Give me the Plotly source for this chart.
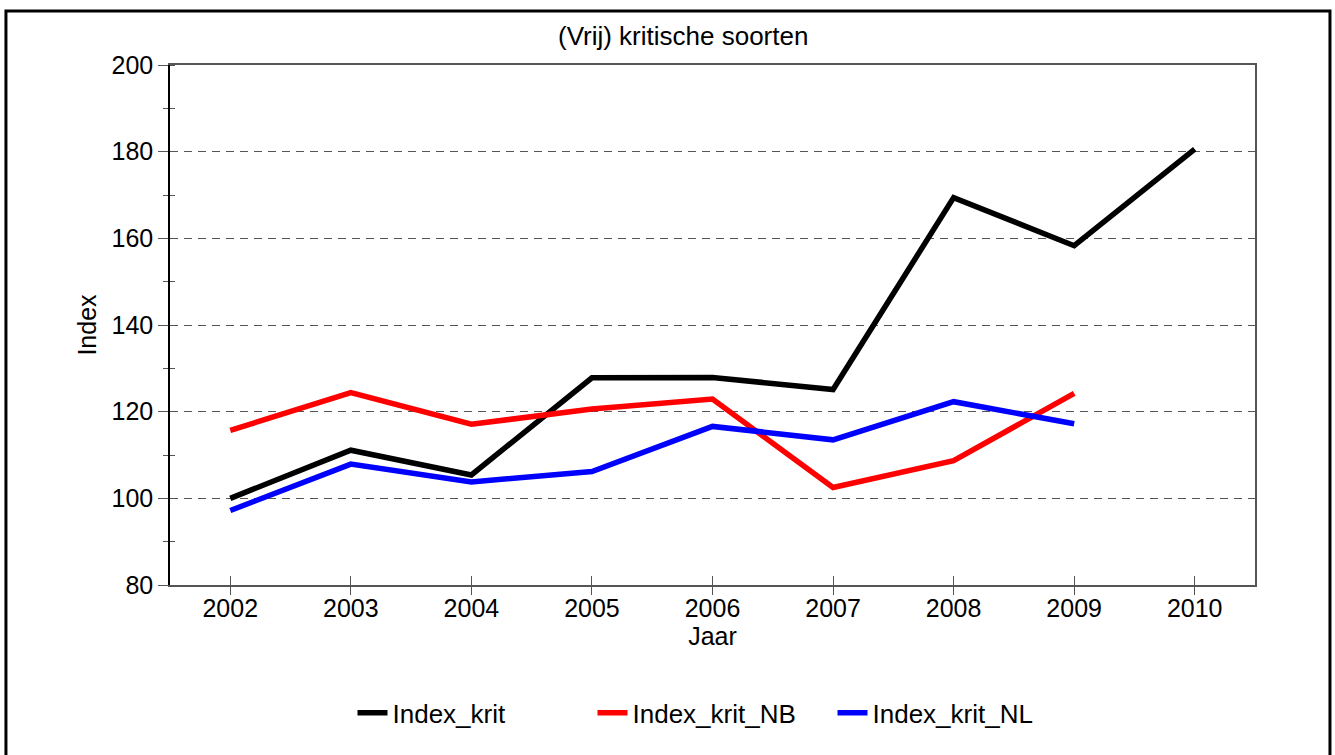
import plotly.graph_objects as go

years = [2002, 2003, 2004, 2005, 2006, 2007, 2008, 2009, 2010]
index_krit = [100.0, 111.1, 105.4, 127.8, 127.9, 125.1, 169.4, 158.3, 180.6]
index_krit_nb = [115.7, 124.4, 117.1, 120.6, 122.9, 102.5, 108.7, 124.2]
index_krit_nl = [97.2, 107.9, 103.8, 106.2, 116.6, 113.5, 122.3, 117.2]
y_ticks = [80, 100, 120, 140, 160, 180, 200]

FONT = "Liberation Sans, Arial, sans-serif"

fig = go.Figure()
fig.add_trace(go.Scatter(x=years, y=index_krit, mode="lines", name="Index_krit",
                         line=dict(color="#000000", width=5.5)))
fig.add_trace(go.Scatter(x=years[:len(index_krit_nb)], y=index_krit_nb, mode="lines",
                         name="Index_krit_NB", line=dict(color="#ff0000", width=5.5)))
fig.add_trace(go.Scatter(x=years[:len(index_krit_nl)], y=index_krit_nl, mode="lines",
                         name="Index_krit_NL", line=dict(color="#0000ff", width=5.5)))

fig.update_layout(
    width=1335, height=755,
    margin=dict(l=170, r=80, t=65, b=170),
    paper_bgcolor="white", plot_bgcolor="white",
    font=dict(family=FONT, size=25, color="black"),
    title=dict(text="(Vrij) kritische soorten", x=0.473, xref="paper", xanchor="center",
               y=1 - 36 / 755, yref="container", yanchor="middle",
               font=dict(family=FONT, size=26, color="black")),
    showlegend=True,
    legend=dict(orientation="h", x=0.5, xanchor="center", y=-0.246, yanchor="middle",
                font=dict(family=FONT, size=26, color="black"),
                entrywidth=195, bgcolor="rgba(0,0,0,0)"),
    xaxis=dict(range=[2001.5, 2010.5], tickmode="array", tickvals=years,
               ticktext=[str(y) for y in years],
               showline=True, linecolor="#555555", linewidth=1.5, mirror=True,
               ticks="inside", ticklen=9, tickcolor="#555555", tickwidth=1,
               showgrid=False, zeroline=False,
               title=dict(text="Jaar", standoff=2, font=dict(size=25))),
    xaxis2=dict(range=[2001.5, 2010.5], overlaying="x", matches="x", side="bottom",
                tickmode="array", tickvals=years, showticklabels=False,
                ticks="outside", ticklen=9, tickcolor="#555555", tickwidth=1,
                showline=False, showgrid=False, zeroline=False),
    yaxis=dict(range=[80, 200], tickmode="array", tickvals=y_ticks,
               showline=True, linecolor="#000000", linewidth=1.5,
               ticks="outside", ticklen=10, tickcolor="#555555", tickwidth=1,
               minor=dict(dtick=10, ticks="outside", ticklen=5, tickcolor="#555555",
                          tickwidth=1, showgrid=False),
               showgrid=True, gridcolor="#555555", gridwidth=1, griddash="8px,6px",
               zeroline=False,
               title=dict(text="Index", standoff=8, font=dict(size=25))),
    yaxis2=dict(range=[80, 200], overlaying="y", matches="y", side="right",
                showticklabels=False, ticks="", showline=True, linecolor="#555555",
                linewidth=1.5, showgrid=False, zeroline=False),
    yaxis3=dict(range=[80, 200], overlaying="y", matches="y", side="left",
                showticklabels=False, ticks="", showline=False, showgrid=False,
                zeroline=False, tickmode="array", tickvals=y_ticks,
                minor=dict(dtick=10, ticks="inside", ticklen=5, tickcolor="#555555",
                           tickwidth=1, showgrid=False)),
)

# invisible helper traces to activate overlay axes
fig.add_trace(go.Scatter(x=[years[0]], y=[y_ticks[0]], xaxis="x2", yaxis="y2",
                         mode="markers", marker=dict(opacity=0), showlegend=False,
                         hoverinfo="skip"))
fig.add_trace(go.Scatter(x=[years[0]], y=[y_ticks[0]], xaxis="x", yaxis="y3",
                         mode="markers", marker=dict(opacity=0), showlegend=False,
                         hoverinfo="skip"))

# outer frame of the chart image
fig.add_shape(type="rect", xref="paper", yref="paper",
              x0=-0.1512, x1=1.0691, y0=-0.40, y1=1.1038,
              line=dict(color="black", width=3), fillcolor="rgba(0,0,0,0)", layer="above")

fig.write_html("out.html", config={"displayModeBar": False},
               post_script="document.body.style.margin='0';")
